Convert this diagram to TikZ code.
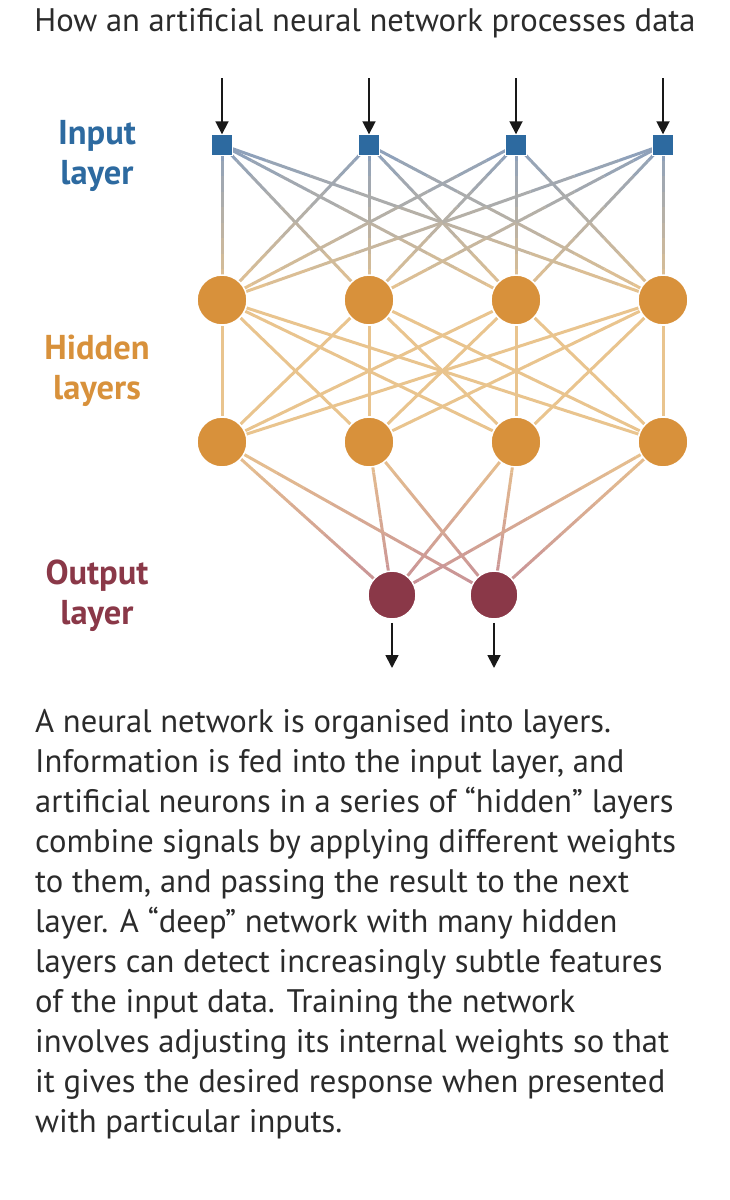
\documentclass[tikz,border=0pt]{standalone}
\usepackage{fontspec}
\setmainfont{PT Sans}
\usepackage{tikz}
\usetikzlibrary{arrows.meta,calc,backgrounds}
\definecolor{inblue}{HTML}{2D6AA0}
\definecolor{hidorange}{HTML}{D8913B}
\definecolor{outmaroon}{HTML}{8A3848}
\definecolor{edgeblue}{HTML}{8A9FBC}
\definecolor{edgetan}{HTML}{E9C48E}
\definecolor{edgepink}{HTML}{C68F98}
\definecolor{ink}{HTML}{2B2B2B}
\tikzset{
  inputbox/.style={
    rectangle, fill=inblue, draw=white, thin,
    minimum size=21pt, inner sep=0pt
  },
  neuron/.style={
    circle, fill=#1, draw=white, line width=1.5pt,
    minimum size=50pt, inner sep=0pt
  },
  neuron/.default=hidorange,
  flowarrow/.style={
    -{Triangle[length=13pt,width=13pt]}, line width=1.8pt, color=black!90
  },
  layerlabel/.style={
    font=\fontsize{34.5}{40}\selectfont\bfseries, text=#1, align=center
  },
  bodytext/.style={
    font=\fontsize{32.6}{40}\selectfont, text=ink, align=left, inner sep=0pt
  },
}
% weighted link, colour running from #3 at #1 to #4 at #2
\newcommand{\fadeedge}[4]{%
  \foreach \k in {1,...,10}{
    \pgfmathsetmacro{\ta}{(\k-1)/10}
    \pgfmathsetmacro{\tb}{\k/10}
    \pgfmathtruncatemacro{\mix}{105-10*\k}
    \draw[line width=3pt, color={#3!\mix!#4}]
      ($(#1)!\ta!(#2)$) -- ($(#1)!\tb!(#2)$);
  }
}

\begin{document}
\begin{tikzpicture}[x=1pt, y=-1pt]
\useasboundingbox (0,0) rectangle (730,1200);

% title
\node[font=\fontsize{32.6}{38}\selectfont, text=ink] (title) at (365,23)
  {How an artificial neural network processes data};

% layers
\foreach \i/\x in {1/222, 2/369, 3/516, 4/663}{
  \node[inputbox] (in\i) at (\x,145) {};
  \node[neuron] (ha\i) at (\x,300) {};
  \node[neuron] (hb\i) at (\x,442) {};
  \coordinate (src\i) at (\x,78);
}
\node[neuron=outmaroon, minimum size=48pt] (out1) at (392,595) {};
\node[neuron=outmaroon, minimum size=48pt] (out2) at (494,595) {};
\coordinate (snk1) at (392,668);
\coordinate (snk2) at (494,668);

% links
\begin{scope}[on background layer]
  \foreach \i in {1,...,4}{
    \foreach \j in {1,...,4}{
      \fadeedge{in\i}{ha\j}{edgeblue}{edgetan}
      \draw[line width=3pt, color=edgetan] (ha\i) -- (hb\j);
    }
    \foreach \j in {1,2}{
      \fadeedge{hb\i}{out\j}{edgetan}{edgepink}
    }
  }
\end{scope}

% in and out arrows
\foreach \i in {1,...,4}{
  \draw[flowarrow] (src\i) -- (in\i.north);
}
\draw[flowarrow, shorten <=3pt] (out1.south) -- (snk1);
\draw[flowarrow, shorten <=3pt] (out2.south) -- (snk2);

% layer labels
\node[layerlabel=inblue] (lblin) at (97,156) {Input\\layer};
\node[layerlabel=hidorange] (lblhid) at (97,371) {Hidden\\layers};
\node[layerlabel=outmaroon] (lblout) at (97,596) {Output\\layer};

% caption
\node[bodytext, anchor=north west] (caption) at (35,709) {%
A neural network is organised into layers.\\
Information is fed into the input layer, and\\
artificial neurons in a series of “hidden” layers\\
combine signals by applying different weights\\
to them, and passing the result to the next\\
layer. A “deep” network with many hidden\\
layers can detect increasingly subtle features\\
of the input data. Training the network\\
involves adjusting its internal weights so that\\
it gives the desired response when presented\\
with particular inputs.};

\end{tikzpicture}
\end{document}
